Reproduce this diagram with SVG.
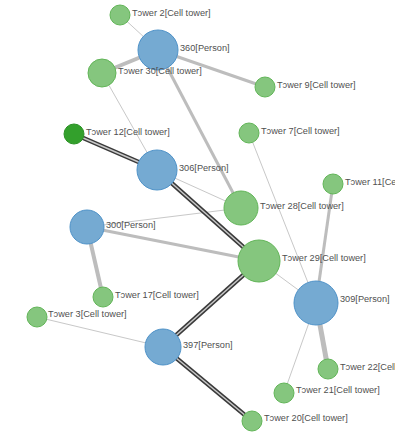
<svg xmlns="http://www.w3.org/2000/svg" width="395" height="436" viewBox="0 0 395 436">
<style>
.thin{stroke:#c8c8c8;stroke-width:1;fill:none}
.thick{stroke:#bdbdbd;fill:none}
.dbo{stroke:#3a3a3a;stroke-width:4.5;fill:none}
.dbi{stroke:#c8c8c8;stroke-width:1.5;fill:none}
.p{fill:#75aad2;stroke:#4f92c8;stroke-width:1}
.t{fill:#85c67e;stroke:#62b558;stroke-width:1}
.td{fill:#33a02c;stroke:#2b9125;stroke-width:1}
text{font-family:"Liberation Sans",Arial,sans-serif;font-size:9.2px;fill:#505050}
</style>
<rect width="395" height="436" fill="#fff"/>
<g id="connectors">
<line class="thin" x1="120" y1="15" x2="158" y2="50"/>
<line class="thick" stroke-width="4" x1="158" y1="50" x2="102" y2="73"/>
<line class="thick" stroke-width="3" x1="158" y1="50" x2="265" y2="87"/>
<line class="thick" stroke-width="3" x1="158" y1="50" x2="241" y2="208"/>
<line class="thin" x1="102" y1="73" x2="157" y2="170"/>
<line class="thin" x1="157" y1="170" x2="241" y2="208"/>
<line class="thin" x1="87" y1="227" x2="241" y2="208"/>
<line class="thick" stroke-width="3" x1="87" y1="227" x2="259" y2="261"/>
<line class="thick" stroke-width="4" x1="87" y1="227" x2="103" y2="297"/>
<line class="thin" x1="249" y1="133" x2="316" y2="303"/>
<line class="thick" stroke-width="3" x1="333" y1="184" x2="316" y2="303"/>
<line class="thin" x1="259" y1="261" x2="316" y2="303"/>
<line class="thick" stroke-width="5" x1="316" y1="303" x2="328" y2="369"/>
<line class="thin" x1="316" y1="303" x2="284" y2="393"/>
<line class="thin" x1="37" y1="317" x2="163" y2="347"/>
<line class="dbo" x1="74" y1="134" x2="157" y2="170"/>
<line class="dbi" x1="74" y1="134" x2="157" y2="170"/>
<line class="dbo" x1="157" y1="170" x2="259" y2="261"/>
<line class="dbi" x1="157" y1="170" x2="259" y2="261"/>
<line class="dbo" x1="259" y1="261" x2="163" y2="347"/>
<line class="dbi" x1="259" y1="261" x2="163" y2="347"/>
<line class="dbo" x1="163" y1="347" x2="252" y2="421"/>
<line class="dbi" x1="163" y1="347" x2="252" y2="421"/>
</g>
<g id="tower2"><circle class="t" cx="120" cy="15" r="10"/><text x="132" y="16">Tɔwer 2[Cell tower]</text></g>
<g id="p360"><circle class="p" cx="158" cy="50" r="20"/><text x="180" y="51">360[Person]</text></g>
<g id="tower30"><circle class="t" cx="102" cy="73" r="14"/><text x="118" y="74">Tɔwer 30[Cell tower]</text></g>
<g id="tower9"><circle class="t" cx="265" cy="87" r="10"/><text x="277" y="88">Tɔwer 9[Cell tower]</text></g>
<g id="tower12"><circle class="td" cx="74" cy="134" r="10"/><text x="86" y="135">Tɔwer 12[Cell tower]</text></g>
<g id="tower7"><circle class="t" cx="249" cy="133" r="10"/><text x="261" y="134">Tɔwer 7[Cell tower]</text></g>
<g id="p306"><circle class="p" cx="157" cy="170" r="20"/><text x="179" y="171">306[Person]</text></g>
<g id="tower11"><circle class="t" cx="333" cy="184" r="10"/><text x="345" y="185">Tɔwer 11[Cell tower]</text></g>
<g id="tower28"><circle class="t" cx="241" cy="208" r="17"/><text x="260" y="209">Tɔwer 28[Cell tower]</text></g>
<g id="p300"><circle class="p" cx="87" cy="227" r="17"/><text x="106" y="228">300[Person]</text></g>
<g id="tower29"><circle class="t" cx="259" cy="261" r="21"/><text x="282" y="261">Tɔwer 29[Cell tower]</text></g>
<g id="tower17"><circle class="t" cx="103" cy="297" r="10"/><text x="115" y="298">Tɔwer 17[Cell tower]</text></g>
<g id="p309"><circle class="p" cx="316" cy="303" r="22"/><text x="340" y="302">309[Person]</text></g>
<g id="tower3"><circle class="t" cx="37" cy="317" r="10"/><text x="48" y="317">Tɔwer 3[Cell tower]</text></g>
<g id="p397"><circle class="p" cx="163" cy="347" r="18"/><text x="183" y="348">397[Person]</text></g>
<g id="tower22"><circle class="t" cx="328" cy="369" r="10"/><text x="340" y="370">Tɔwer 22[Cell tower]</text></g>
<g id="tower21"><circle class="t" cx="284" cy="393" r="10"/><text x="296" y="393">Tɔwer 21[Cell tower]</text></g>
<g id="tower20"><circle class="t" cx="252" cy="421" r="10"/><text x="264" y="421">Tɔwer 20[Cell tower]</text></g>
</svg>
